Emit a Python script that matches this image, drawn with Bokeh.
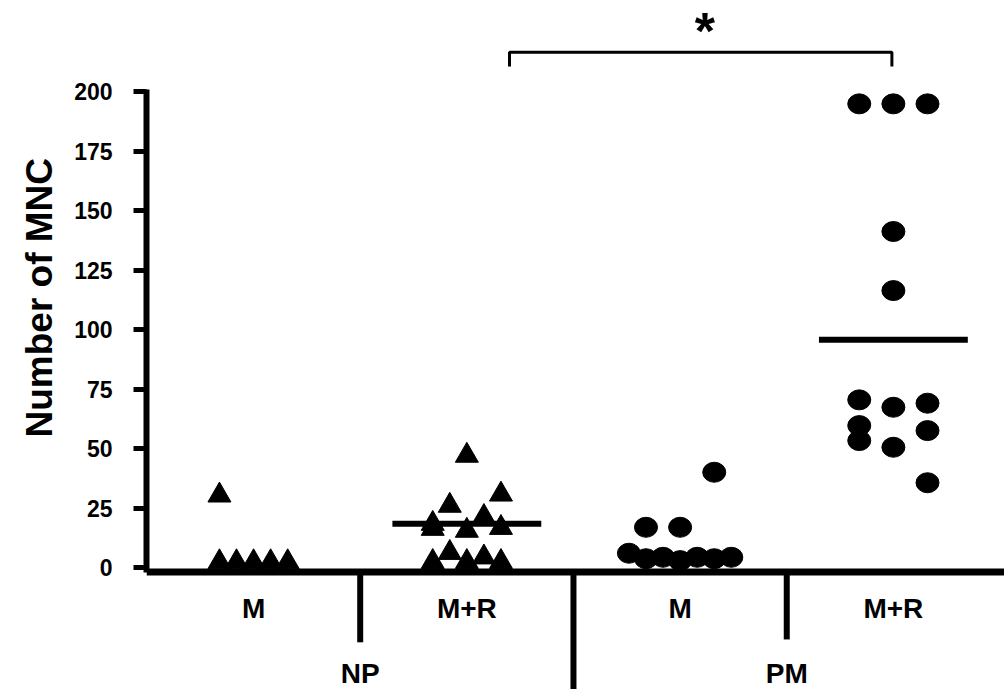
from bokeh.plotting import figure
from bokeh.models import FixedTicker, Span, Title
from bokeh.core.properties import value
from bokeh.embed import file_html
from bokeh.resources import INLINE

# ---- data ----
group_pos = [1, 2, 3, 4]
group_labels = ["M", "M+R", "M", "M+R"]
condition_labels = ["NP", "PM"]
y_ticks = [0, 25, 50, 75, 100, 125, 150, 175, 200]
y_label = "Number of MNC"

np_m_vals = [30.5, 2.5, 2.5, 2.5, 2.5, 2.5]
np_m_slot = [-2, -2, -1, 0, 1, 2]

np_mr_vals = [47.2, 30.9, 26.2, 21.5, 18.6, 16.5, 15.7, 16.9, 6.4, 4.5, 2.6, 2.6, 2.6]
np_mr_slot = [0, 2, -1, 1, -2, -2, 0, 2, -1, 1, -2, 0, 2]

pm_m_vals = [40.2, 17.1, 17.1, 6.2, 3.9, 4.5, 3.1, 4.5, 3.9, 4.5]
pm_m_slot = [2, -2, 0, -3, -2, -1, 0, 1, 2, 3]

pm_mr_vals = [194.9, 194.9, 194.9, 141.3, 116.5, 70.6, 67.5, 69.2,
              59.8, 53.5, 50.7, 57.7, 35.8]
pm_mr_slot = [-2, 0, 2, 0, 0, -2, 0, 2, -2, -2, 0, 2, 2]

mean_groups = [2, 4]
mean_vals = [18.6, 95.8]

comparison = (2, 4)
significance = "*"

# ---- layout / style ----
SLOT = 0.08
FONT = "Liberation Sans"
W, H = 1004, 689

p = figure(width=W, height=H, output_backend="svg", toolbar_location=None,
           x_range=(0.498, 4.521), y_range=(-51.02, 238.3),
           x_axis_location=None, min_border_left=146, min_border_right=0,
           min_border_top=0, min_border_bottom=0)
p.xgrid.visible = False
p.ygrid.visible = False
p.outline_line_color = None
p.background_fill_color = "white"
p.border_fill_color = "white"

ax = p.yaxis[0]
ax.ticker = FixedTicker(ticks=y_ticks)
ax.bounds = (-1.7, 201)
ax.axis_line_width = 6
ax.axis_line_color = "black"
ax.major_tick_line_width = 5
ax.major_tick_line_color = "black"
ax.major_tick_out = 13
ax.major_tick_in = 0
ax.minor_tick_out = 0
ax.minor_tick_in = 0
ax.major_label_standoff = 21
ax.major_label_text_font = FONT
ax.major_label_text_font_style = "bold"
ax.major_label_text_font_size = "23px"
ax.major_label_text_color = "black"

# y axis title as a left-side title, positioned along the axis
p.add_layout(Title(text=y_label, align="left", offset=252, vertical_align="middle",
                   standoff=22, text_font=FONT, text_font_style="bold",
                   text_font_size="37px", text_color="black"), "left")


def xs(g, slots):
    return [g + s * SLOT for s in slots]


# triangles (NP)
p.scatter(xs(1, np_m_slot), np_m_vals, marker="triangle", size=23,
          fill_color="black", line_color="black")
p.scatter(xs(2, np_mr_slot), np_mr_vals, marker="triangle", size=23,
          fill_color="black", line_color="black")

# dots (PM)
p.ellipse(xs(3, pm_m_slot), pm_m_vals, width=23, height=20,
          width_units="screen", height_units="screen",
          fill_color="black", line_color="black")
p.ellipse(xs(4, pm_mr_slot), pm_mr_vals, width=23, height=20,
          width_units="screen", height_units="screen",
          fill_color="black", line_color="black")

# mean lines
half = 0.349
p.segment(x0=[g - half for g in mean_groups], x1=[g + half for g in mean_groups],
          y0=mean_vals, y1=mean_vals, line_width=6, line_color="black")

# x axis baseline
p.add_layout(Span(location=-1.7, dimension="width", line_width=7, line_color="black"))

# dividers between groups
p.segment(x0=[1.5, 2.5, 3.5], x1=[1.5, 2.5, 3.5], y0=[-1.7, -1.7, -1.7],
          y1=[-31.2, -51.0, -30.0], line_width=6, line_color="black")

# group labels
p.text(x=group_pos, y=[-17.2] * 4, text=group_labels, text_align="center",
       text_baseline="middle", text_font=value(FONT), text_font_style="bold",
       text_font_size="28px", text_color="black")
p.text(x=[1.5, 3.5], y=[-44.2, -44.2], text=condition_labels, text_align="center",
       text_baseline="middle", text_font=value(FONT), text_font_style="bold",
       text_font_size="28px", text_color="black")

# significance bracket
bx0, bx1 = comparison[0] + 0.2, comparison[1] - 0.007
p.line([bx0, bx0, bx1, bx1], [210.6, 216.6, 216.6, 210.6], line_width=3,
       line_color="black")
p.text(x=[(bx0 + bx1) / 2 + 0.02], y=[237.6], text=[significance], text_align="center",
       text_baseline="top", text_font=value(FONT), text_font_style="bold",
       text_font_size="52px", text_color="black")

open("out.html", "w").write(file_html(p, INLINE))
